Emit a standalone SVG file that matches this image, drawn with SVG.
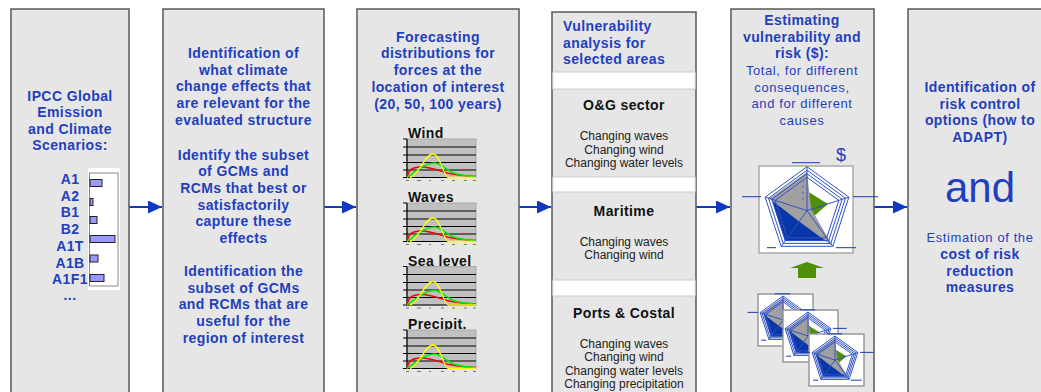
<svg xmlns="http://www.w3.org/2000/svg" xmlns:xlink="http://www.w3.org/1999/xlink" width="1041" height="392" viewBox="0 0 1041 392">
  <style>
    .panel { fill: #e6e6e6; stroke: #585858; stroke-width: 1.5; }
    .hb { font-family: "Liberation Sans", Arial, sans-serif; font-weight: bold; font-size: 14px; fill: #1f3fbf; letter-spacing: 0.4px; text-anchor: middle; }
    .hr { font-family: "Liberation Sans", Arial, sans-serif; font-size: 13px; fill: #1f3fbf; letter-spacing: 0.6px; text-anchor: middle; }
    .kb { font-family: "Liberation Sans", Arial, sans-serif; font-weight: bold; font-size: 14px; fill: #111; letter-spacing: 0.4px; }
    .sm { font-family: "Liberation Sans", Arial, sans-serif; font-size: 12px; fill: #222; text-anchor: middle; }
    .bar { fill: #9999ff; stroke: #222; stroke-width: 1; }
    .conn { stroke: #1038c0; stroke-width: 2; fill: none; }
    .ring { fill: none; stroke: #2f52c8; stroke-width: 1; vector-effect: non-scaling-stroke; }
    .lbl { stroke: #1a3ab0; stroke-width: 1; vector-effect: non-scaling-stroke; }
  </style>
  <defs>
    <marker id="ah" viewBox="0 0 14 13" refX="14" refY="6.5" markerWidth="14" markerHeight="13" markerUnits="userSpaceOnUse" orient="auto">
      <path d="M0,0 L14,6.5 L0,13 z" fill="#1038c0"/>
    </marker>
    <!-- small distribution chart, origin at plot top-left -->
    <g id="dist">
      <rect x="0" y="0" width="69" height="38.5" fill="#c0c0c0" stroke="#a8a8a8" stroke-width="1"/>
      <path d="M0,8H69M0,16H69M0,23.5H69M0,31H69" stroke="#000" stroke-width="1"/>
      <path d="M-4,0H0M-4,8H0M-4,16H0M-4,23.5H0M-4,31H0M-4,38.5H0" stroke="#000" stroke-width="1"/>
      <path d="M0,0V38.5H69" stroke="#000" stroke-width="1.2" fill="none"/>
      <path d="M-1,41.5h3M10,41.5h4M22,41.5h2M34,41.5h3M45,41.5h3M57,41.5h3M66,41.5h3" stroke="#777" stroke-width="1"/>
      <path d="M0,38.5 C2,30 5,29 12,28 C22,27 30,31 40,34 C52,36.5 60,37 69,37.5" fill="none" stroke="#ff0000" stroke-width="1.5"/>
      <path d="M0,38.5 C10,32 18,24 27,24 C35,24 40,33 50,35 C58,37 64,37 69,38" fill="none" stroke="#00ee00" stroke-width="1.5"/>
      <path d="M3,38.5 C12,36 18,15 26,15 C33,15 36,36 41,38.5 L69,38.5" fill="none" stroke="#ffff00" stroke-width="1.3"/>
    </g>
    <!-- radar chart, centre at origin, outer radius 44 -->
    <g id="radar">
      <polygon points="0,-44 41.85,-13.6 25.86,35.6 -25.86,35.6 -41.85,-13.6" fill="#ffffff"/>
      <polygon points="0,-4.4 4.2,-1.4 22,30.3 -22,30.3 -35.5,-11.6" fill="#0636a8"/>
      <polygon points="0,-19.8 20.9,-6.8 5.2,7.1 0,0" fill="#4f8f0a"/>
      <polygon points="0,-38.7 4.2,-1.4 25.9,35.6 -7.8,10.7 -37.7,-12.2" fill="#a0a0a0"/>
      <polygon class="ring" points="0,-44 41.85,-13.6 25.86,35.6 -25.86,35.6 -41.85,-13.6"/>
      <polygon class="ring" points="0,-40.5 38.5,-12.5 23.8,32.7 -23.8,32.7 -38.5,-12.5"/>
      <polygon class="ring" points="0,-37 35.2,-11.4 21.7,29.9 -21.7,29.9 -35.2,-11.4"/>
      <polygon class="ring" points="0,-33.4 31.8,-10.3 19.7,27.1 -19.7,27.1 -31.8,-10.3"/>
      <path class="ring" d="M0,0L0,-44M0,0L41.85,-13.6M0,0L25.86,35.6M0,0L-25.86,35.6M0,0L-41.85,-13.6"/>
      <g fill="#6a5acd">
        <circle cx="-4" cy="-12" r="0.9"/>
        <circle cx="-4" cy="-18" r="0.9"/>
        <circle cx="-4" cy="-24" r="0.9"/>
        <circle cx="-4" cy="-30" r="0.9"/>
      </g>
      <path class="lbl" d="M-15,-48H13M-65,-14H-46M46,-14H71M-40,37H-31M29,37H49"/>
    </g>
  </defs>

  <!-- emission scenarios -->
  <g id="scenarios">
    <rect class="panel" x="11" y="9" width="118" height="400"/>
    <text class="hb" x="70" y="100.5">IPCC Global</text>
    <text class="hb" x="70" y="117">Emission</text>
    <text class="hb" x="70" y="133.7">and Climate</text>
    <text class="hb" x="70" y="150.4">Scenarios:</text>
    <text class="hb" x="70" y="184">A1</text>
    <text class="hb" x="70" y="200.7">A2</text>
    <text class="hb" x="70" y="217.4">B1</text>
    <text class="hb" x="70" y="234">B2</text>
    <text class="hb" x="70" y="250.8">A1T</text>
    <text class="hb" x="70" y="267.5">A1B</text>
    <text class="hb" x="70" y="284.2">A1F1</text>
    <text class="hb" x="70" y="300">...</text>
    <rect x="88" y="168" width="32" height="122" fill="#ffffff"/>
    <rect x="89.5" y="173" width="28.5" height="113" fill="none" stroke="#888" stroke-width="1"/>
    <rect class="bar" x="90" y="179.5" width="12" height="7"/>
    <rect class="bar" x="90" y="198.5" width="3" height="7"/>
    <rect class="bar" x="90" y="216.5" width="7" height="7"/>
    <rect class="bar" x="90" y="235.5" width="25" height="7"/>
    <rect class="bar" x="90" y="255" width="8" height="7"/>
    <rect class="bar" x="90" y="274.5" width="14" height="7"/>
  </g>

  <!-- model selection -->
  <g id="model-selection">
    <rect class="panel" x="163" y="9" width="161" height="400"/>
    <text class="hb" x="243.5" y="58">Identification of</text>
    <text class="hb" x="243.5" y="74.7">what climate</text>
    <text class="hb" x="243.5" y="91.4">change effects that</text>
    <text class="hb" x="243.5" y="108">are relevant for the</text>
    <text class="hb" x="243.5" y="124.8">evaluated structure</text>
    <text class="hb" x="243.5" y="159.5">Identify the subset</text>
    <text class="hb" x="243.5" y="176.2">of GCMs and</text>
    <text class="hb" x="243.5" y="192.9">RCMs that best or</text>
    <text class="hb" x="243.5" y="209.6">satisfactorily</text>
    <text class="hb" x="243.5" y="226.3">capture these</text>
    <text class="hb" x="243.5" y="243">effects</text>
    <text class="hb" x="243.5" y="276">Identification the</text>
    <text class="hb" x="243.5" y="292.7">subset of GCMs</text>
    <text class="hb" x="243.5" y="309.4">and RCMs that are</text>
    <text class="hb" x="243.5" y="326">useful for the</text>
    <text class="hb" x="243.5" y="342.8">region of interest</text>
  </g>

  <!-- force distributions -->
  <g id="forecasting">
    <rect class="panel" x="357" y="9" width="162" height="400"/>
    <text class="hb" x="438" y="41.7">Forecasting</text>
    <text class="hb" x="438" y="58.4">distributions for</text>
    <text class="hb" x="438" y="75">forces at the</text>
    <text class="hb" x="438" y="91.8">location of interest</text>
    <text class="hb" x="438" y="108.5">(20, 50, 100 years)</text>
    <text class="kb" x="408" y="138">Wind</text>
    <use xlink:href="#dist" href="#dist" transform="translate(407,139)"/>
    <text class="kb" x="408" y="202">Waves</text>
    <use xlink:href="#dist" href="#dist" transform="translate(407,203)"/>
    <text class="kb" x="408" y="265.5">Sea level</text>
    <use xlink:href="#dist" href="#dist" transform="translate(407,266.5)"/>
    <text class="kb" x="408" y="329">Precipit.</text>
    <use xlink:href="#dist" href="#dist" transform="translate(407,330)"/>
  </g>

  <!-- vulnerability by area -->
  <g id="vulnerability">
    <rect class="panel" x="552" y="12" width="144" height="400"/>
    <text class="hb" x="563" y="31" style="text-anchor:start">Vulnerability</text>
    <text class="hb" x="563" y="47.7" style="text-anchor:start">analysis for</text>
    <text class="hb" x="563" y="64.4" style="text-anchor:start">selected areas</text>
    <g fill="#ffffff" stroke="#cccccc" stroke-width="1">
      <rect x="552.8" y="72" width="142.4" height="17"/>
      <rect x="552.8" y="177" width="142.4" height="15"/>
      <rect x="552.8" y="280" width="142.4" height="16"/>
    </g>
    <text class="kb" x="624" y="110" text-anchor="middle">O&amp;G sector</text>
    <text class="sm" x="624" y="140">Changing waves</text>
    <text class="sm" x="624" y="153.5">Changing wind</text>
    <text class="sm" x="624" y="167">Changing water levels</text>
    <text class="kb" x="624" y="216" text-anchor="middle">Maritime</text>
    <text class="sm" x="624" y="246">Changing waves</text>
    <text class="sm" x="624" y="259">Changing wind</text>
    <text class="kb" x="624" y="318" text-anchor="middle">Ports &amp; Costal</text>
    <text class="sm" x="624" y="348">Changing waves</text>
    <text class="sm" x="624" y="361.3">Changing wind</text>
    <text class="sm" x="624" y="374.6">Changing water levels</text>
    <text class="sm" x="624" y="388">Changing precipitation</text>
  </g>

  <!-- risk estimation -->
  <g id="risk">
    <rect class="panel" x="731" y="9" width="143" height="400"/>
    <text class="hb" x="802" y="25">Estimating</text>
    <text class="hb" x="802" y="41.7">vulnerability and</text>
    <text class="hb" x="802" y="58.4">risk ($):</text>
    <text class="hr" x="802" y="75">Total, for different</text>
    <text class="hr" x="802" y="91.7">consequences,</text>
    <text class="hr" x="802" y="108.4">and for different</text>
    <text class="hr" x="802" y="125">causes</text>
    <text class="hr" x="841" y="160.5" style="font-size:18px;letter-spacing:0">$</text>
    <rect x="759" y="166" width="94" height="87" fill="#ffffff" stroke="#aaaaaa" stroke-width="1.5"/>
    <use xlink:href="#radar" href="#radar" transform="translate(807,210.7)"/>
    <polygon points="807,262 824,268 816,268 816,278 798,278 798,268 790,268" fill="#4f8f0a"/>
    <rect x="758" y="294" width="55" height="52" fill="#ffffff" stroke="#999999" stroke-width="1.5"/>
    <use xlink:href="#radar" href="#radar" transform="translate(783,320) scale(0.545)"/>
    <rect x="783" y="310" width="55" height="52" fill="#ffffff" stroke="#999999" stroke-width="1.5"/>
    <use xlink:href="#radar" href="#radar" transform="translate(808,336) scale(0.545)"/>
    <rect x="809" y="334" width="55" height="52" fill="#ffffff" stroke="#999999" stroke-width="1.5"/>
    <use xlink:href="#radar" href="#radar" transform="translate(835,360) scale(0.545)"/>
  </g>

  <!-- risk control options -->
  <g id="adaptation">
    <rect class="panel" x="908" y="9" width="150" height="400"/>
    <text class="hb" x="980" y="92">Identification of</text>
    <text class="hb" x="980" y="108.7">risk control</text>
    <text class="hb" x="980" y="125.4">options (how to</text>
    <text class="hb" x="980" y="142">ADAPT)</text>
    <text class="hr" x="980" y="202" style="font-size:42px;letter-spacing:0">and</text>
    <text class="hr" x="980" y="242">Estimation of the</text>
    <text class="hb" x="980" y="259">cost of risk</text>
    <text class="hb" x="980" y="275.7">reduction</text>
    <text class="hb" x="980" y="292.4">measures</text>
  </g>

  <!-- flow between stages -->
  <g id="connectors">
    <line class="conn" x1="129.5" y1="207" x2="162" y2="207" marker-end="url(#ah)"/>
    <line class="conn" x1="324.5" y1="207" x2="356" y2="207" marker-end="url(#ah)"/>
    <line class="conn" x1="519.5" y1="207" x2="551" y2="207" marker-end="url(#ah)"/>
    <line class="conn" x1="696.5" y1="207" x2="730" y2="207" marker-end="url(#ah)"/>
    <line class="conn" x1="874.5" y1="207" x2="907" y2="207" marker-end="url(#ah)"/>
  </g>
</svg>
